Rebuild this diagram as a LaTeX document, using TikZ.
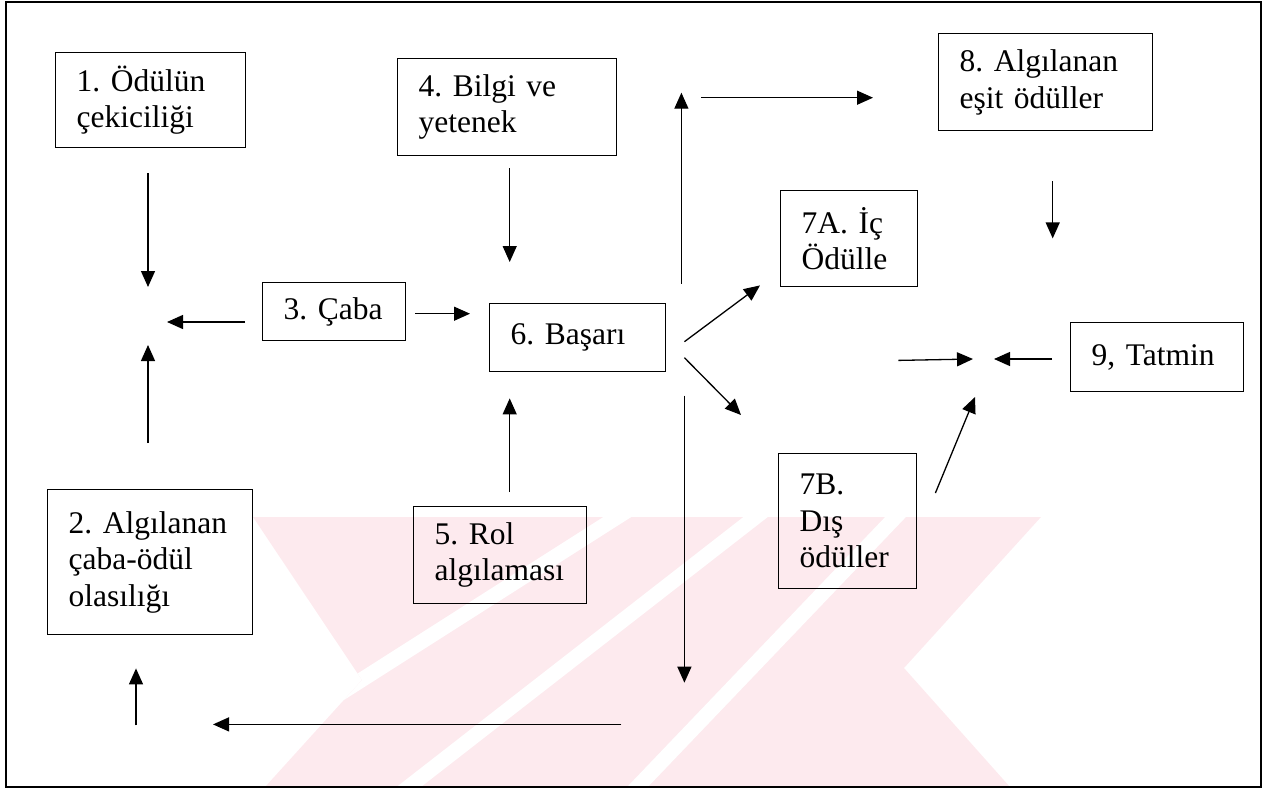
\documentclass[tikz,border=0pt]{standalone}
\usepackage{fontspec}
\setmainfont{Liberation Serif}
\usetikzlibrary{arrows.meta,calc}
\definecolor{wm}{RGB}{253,234,238}
\tikzset{
  box/.style={draw, line width=1.4pt, anchor=north west, inner xsep=21pt, inner ysep=0pt, align=left,
    font=\fontsize{31.5}{36.5}\selectfont},
  arr/.style={line width=1.3pt, -{Triangle[length=16pt,width=14pt]}},
  gap/.style={line width=15pt, white}
}
\begin{document}
\begin{tikzpicture}[x=1pt,y=-1pt]
\useasboundingbox (0,0) rectangle (1271,790);
% watermark (approximate)
\begin{scope}
\clip (253,517) -- (1041,517) -- (904,668) -- (1010,787) -- (265,787) -- (362,680) -- cycle;
\fill[wm] (190,500) rectangle (1060,800);
\draw[gap] (330,700) -- (644,500);
\draw[gap] (392,800) -- (771,505);
\draw[gap] (625,800) -- (907,505);
\end{scope}
% frame
\draw[line width=1.5pt] (6,2) rectangle (1261,787);
% boxes
\node[box, minimum width=190pt, minimum height=95pt, text width=148pt] (n1) at (55,52) {1.~Ödülün\\çekiciliği};
\node[box, minimum width=219pt, minimum height=97pt, text width=177pt] (n4) at (397,58) {4.~Bilgi ve\\yetenek};
\node[box, minimum width=214pt, minimum height=97pt, text width=172pt] (n8) at (938,33) {8.~Algılanan\\eşit~ödüller};
\node[box, minimum width=137pt, minimum height=96pt, text width=95pt] (n7a) at (780,190) {7A.~İç\\Ödülle};
\node[box, minimum width=143pt, minimum height=58pt, text width=101pt] (n3) at (262,282) {3.~Çaba};
\node[box, minimum width=176pt, minimum height=68pt, text width=134pt] (n6) at (489,303) {6.~Başarı};
\node[box, minimum width=173pt, minimum height=69pt, text width=131pt] (n9) at (1070,322) {9,~Tatmin};
\node[box, minimum width=205pt, minimum height=145pt, text width=163pt] (n2) at (47,489) {2.~Algılanan\\çaba-ödül\\olasılığı};
\node[box, minimum width=173pt, minimum height=97pt, text width=131pt] (n5) at (413,506) {5.~Rol\\algılaması};
\node[box, minimum width=138pt, minimum height=135pt, text width=96pt] (n7b) at (778,453) {7B.\\Dış\\ödüller};
% junctions
\coordinate (J1) at (148,322);
\coordinate (J2) at (983,359);
% arrows
\draw[arr] ($(n1.south -| J1)+(0,25)$) -- ($(J1)+(0,-35)$);
\draw[arr] ($(n3.west |- J1)+(-17,0)$) -- ($(J1)+(19,0)$);
\draw[arr] ($(n2.north -| J1)+(0,-46)$) -- ($(J1)+(0,23)$);
\draw[arr] ($(n3.east)+(9,2)$) -- ($(n6.west |- n3.east)+(-19,2)$);
\draw[arr] ($(n4.south)+(2.5,12)$) -- ($(n6.north -| n4.south)+(2.5,-41)$);
\draw[arr] ($(n5.north)+(9.5,-14)$) -- ($(n6.south -| n5.north)+(9.5,26)$);
\draw[arr] ($(n6.east)+(15,-54)$) -- ($(n6.east)+(15,-245)$);
\draw[arr] ($(n6.east)+(35,-240)$) -- ($(n8.west)+(-65,15.5)$);
\draw[arr] ($(n6.east)+(18,4)$) -- ($(n7a.south west)+(-20,-2)$);
\draw[arr] ($(n6.east)+(18,20)$) -- ($(n7b.north west)+(-37,-38)$);
\draw[arr] ($(n6.east)+(18,58)$) -- ($(n6.east)+(18,345)$);
\draw[arr] ($(n6.south east)+(-45,352)$) -- ($(n2.south west)+(166,89)$);
\draw[arr] ($(n2.south west)+(89,90)$) -- ($(n2.south west)+(89,33)$);
\draw[arr] ($(n8.south)+(7,50)$) -- ($(n8.south)+(7,107)$);
\draw[arr] ($(n7a.south east)+(-20,73)$) -- ($(J2)+(-10,0)$);
\draw[arr] ($(n9.west |- J2)+(-18,0)$) -- ($(J2)+(11,0)$);
\draw[arr] ($(n7b.north east)+(18,40)$) -- ($(J2)+(-8,38)$);
\end{tikzpicture}
\end{document}
